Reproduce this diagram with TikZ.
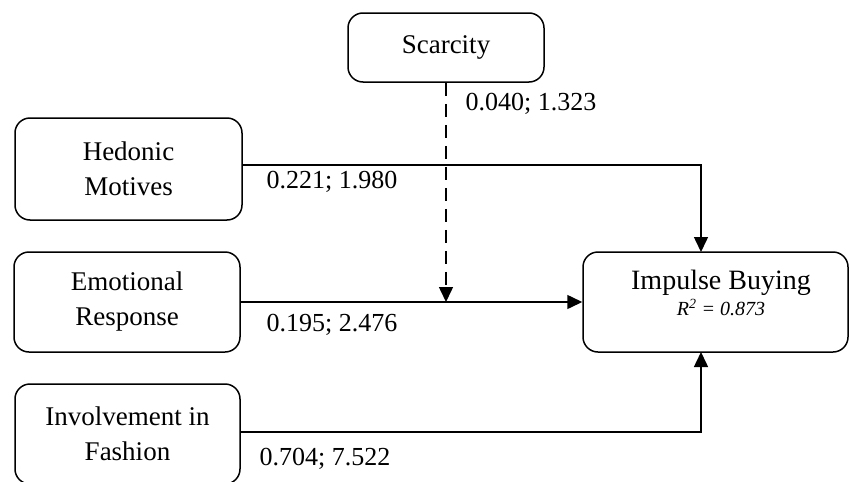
\documentclass[tikz,border=0pt]{standalone}
\usepackage{fontspec}
\setmainfont{Liberation Serif}
\usetikzlibrary{arrows.meta}
\begin{document}
\begin{tikzpicture}[x=1pt,y=-1pt,
  box/.style={draw,line width=1.5pt,rounded corners=15pt,align=center,inner sep=0pt,
    font=\fontsize{27}{35}\selectfont},
  lab/.style={inner sep=0pt,font=\fontsize{26}{30}\selectfont},
  conn/.style={line width=1.5pt},
  arr/.style={conn,-{Triangle[length=15pt,width=14pt]}},
  dsh/.style={arr,dash pattern=on 13pt off 8pt}]
\useasboundingbox (0,0) rectangle (849,482);
\clip (0,0) rectangle (849,482);
\node[box,minimum width=196pt,minimum height=69pt] (sca) at (446,47.5) {Scarcity};
\node[box,minimum width=227pt,minimum height=102pt] (hed) at (128.5,169) {Hedonic\\Motives};
\node[box,minimum width=226pt,minimum height=100pt] (emo) at (127,302) {Emotional\\Response};
\node[box,minimum width=225pt,minimum height=100pt] (inv) at (127.5,434) {Involvement in\\Fashion};
\node[box,minimum width=265pt,minimum height=100pt] (imp) at (715.5,302) {};
\node[inner sep=0pt,align=center,font=\fontsize{28}{28}\selectfont] (impt) at (721,293)
  {Impulse Buying\\[-2pt]{\fontsize{20}{22}\selectfont\itshape R\textsuperscript{2} = 0.873}};
\coordinate (impT) at (701,252);
\coordinate (impB) at (701,352);
\draw[arr] ([yshift=4pt]hed.east) -| (impT);
\draw[arr] (emo.east) -- (imp.west);
\draw[arr] ([yshift=2pt]inv.east) -| (impB);
\draw[dsh] (sca.south) -- (sca.south |- emo.east);
\node[lab] (l1) at (531,104) {0.040; 1.323};
\node[lab] (l2) at (332,182) {0.221; 1.980};
\node[lab] (l3) at (332,325) {0.195; 2.476};
\node[lab] (l4) at (325,459) {0.704; 7.522};
\end{tikzpicture}
\end{document}
